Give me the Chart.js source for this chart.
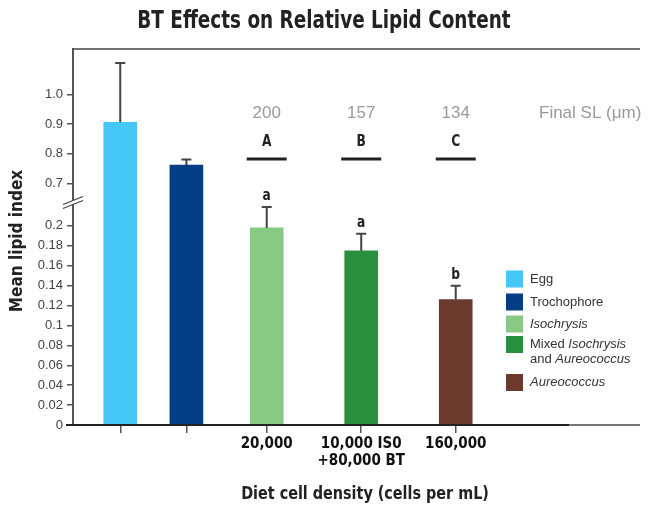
<!DOCTYPE html>
<html>
<head>
<meta charset="utf-8">
<script src="https://cdn.jsdelivr.net/npm/chart.js@4.4.1/dist/chart.umd.min.js"></script>
<style>
  html, body { margin: 0; padding: 0; background: #fff; }
  #wrap { width: 649px; height: 506px; }
</style>
</head>
<body>
<div id="wrap"><canvas id="chart" width="649" height="506"></canvas></div>
<script>
// ---- data ----
const groups = ['Egg', 'Trochophore', 'Isochrysis', 'Mixed Isochrysis and Aureococcus', 'Aureococcus'];
const lipidMeans = [0.906, 0.762, 0.198, 0.175, 0.126];
const lipidErrors = [0.200, 0.019, 0.021, 0.017, 0.014];
const dietLabels = ['', '', '20,000', ['10,000 IS0', '+80,000 BT'], '160,000'];
const sigLetters = ['', '', 'a', 'a', 'b'];
const finalSL = ['', '', '200', '157', '134'];
const slGroups = ['', '', 'A', 'B', 'C'];
const yTicks = [0, 0.02, 0.04, 0.06, 0.08, 0.1, 0.12, 0.14, 0.16, 0.18, 0.2, 0.7, 0.8, 0.9, 1.0];
const yTickLabels = ['0', '0.02', '0.04', '0.06', '0.08', '0.1', '0.12', '0.14', '0.16', '0.18', '0.2', '0.7', '0.8', '0.9', '1.0'];

// ---- layout & style ----
const slotPositions = [0.5, 1.2, 2.05, 3.05, 4.05];   // x-axis units (0..6)
const barColors = ['#45C8F5', '#033E85', '#88C984', '#2A8F3C', '#6B3A2C'];
const axisBreak = { lowMax: 0.223, highMin: 0.634, frac: 0.5904 }; // value range below / above the break
const NARROW = "'Liberation Sans Narrow', 'Arial Narrow', 'DejaVu Sans Condensed', sans-serif";
const SANS = "'Liberation Sans', Arial, sans-serif";
const legendRows = [
  { color: barColors[0], lines: [[['Egg', false]]] },
  { color: barColors[1], lines: [[['Trochophore', false]]] },
  { color: barColors[2], lines: [[['Isochrysis', true]]] },
  { color: barColors[3], lines: [[['Mixed ', false], ['Isochrysis', true]], [['and ', false], ['Aureococcus', true]]] },
  { color: barColors[4], lines: [[['Aureococcus', true]]] }
];

// Linear scale with a break: a stretched lower segment and a compressed upper one.
class BrokenLinearScale extends Chart.LinearScale {
  buildTicks() { return yTicks.map(v => ({ value: v })); }
  _decimalFor(v) {
    const b = axisBreak;
    if (v <= b.lowMax) return (v - this.min) / (b.lowMax - this.min) * b.frac;
    if (v >= b.highMin) return b.frac + (v - b.highMin) / (this.max - b.highMin) * (1 - b.frac);
    return b.frac;
  }
  getPixelForValue(v) {
    if (v === null || isNaN(v)) return NaN;
    return this.getPixelForDecimal(this._decimalFor(v));
  }
  getValueForPixel(p) {
    const b = axisBreak;
    const d = this.getDecimalForPixel(p);
    if (d <= b.frac) return this.min + d / b.frac * (b.lowMax - this.min);
    return b.highMin + (d - b.frac) / (1 - b.frac) * (this.max - b.highMin);
  }
}
BrokenLinearScale.id = 'brokenLinear';
Chart.register(BrokenLinearScale);

function drawRuns(ctx, runs, x, y, size) {
  let cx = x;
  runs.forEach(([t, it]) => {
    ctx.font = (it ? 'italic ' : '') + size + 'px ' + SANS;
    ctx.fillText(t, cx, y);
    cx += ctx.measureText(t).width;
  });
}

// condensed bold text: horizontally squeezed
function narrowText(ctx, text, x, y, size, squeeze, rotate) {
  ctx.save();
  ctx.translate(x, y);
  if (rotate) ctx.rotate(-Math.PI / 2);
  ctx.scale(squeeze, 1);
  ctx.font = 'bold ' + size + 'px ' + NARROW;
  ctx.fillText(text, 0, 0);
  ctx.restore();
}

const decorations = {
  id: 'decorations',
  afterDatasetsDraw(chart) {
    const { ctx, chartArea: a } = chart;
    const xs = chart.scales.x, ys = chart.scales.y;
    ctx.save();

    // error bars and significance letters
    lipidMeans.forEach((m, i) => {
      const x = xs.getPixelForValue(slotPositions[i]);
      const yb = ys.getPixelForValue(m);
      const yt = ys.getPixelForValue(m + lipidErrors[i]);
      ctx.strokeStyle = '#444';
      ctx.lineWidth = 2;
      ctx.beginPath();
      ctx.moveTo(x, yb); ctx.lineTo(x, yt);
      ctx.moveTo(x - 5, yt); ctx.lineTo(x + 5, yt);
      ctx.stroke();
      ctx.textAlign = 'center';
      if (sigLetters[i]) {
        ctx.fillStyle = '#222';
        ctx.textBaseline = 'alphabetic';
        narrowText(ctx, sigLetters[i], x, yt - 7, 16, 0.85);
      }
      if (finalSL[i]) {
        ctx.fillStyle = '#9a9a9a';
        ctx.font = '17px ' + SANS;
        ctx.textBaseline = 'middle';
        ctx.fillText(finalSL[i], x, 113);
      }
      if (slGroups[i]) {
        ctx.fillStyle = '#222';
        ctx.textBaseline = 'middle';
        narrowText(ctx, slGroups[i], x, 142, 16, 0.85);
        ctx.strokeStyle = '#222';
        ctx.lineWidth = 3;
        ctx.beginPath();
        ctx.moveTo(x - 20, 159); ctx.lineTo(x + 20, 159);
        ctx.stroke();
      }
    });

    ctx.fillStyle = '#9a9a9a';
    ctx.font = '17px ' + SANS;
    ctx.textAlign = 'left';
    ctx.textBaseline = 'middle';
    ctx.fillText('Final SL (\u03bcm)', 539, 113);

    // top frame line
    ctx.strokeStyle = '#444';
    ctx.lineWidth = 1.5;
    ctx.beginPath();
    ctx.moveTo(a.left, a.top); ctx.lineTo(a.right, a.top);
    ctx.stroke();

    // x axis line
    ctx.lineWidth = 2;
    ctx.strokeStyle = '#222';
    ctx.beginPath();
    ctx.moveTo(a.left - 7, a.bottom); ctx.lineTo(569, a.bottom);
    ctx.stroke();
    ctx.strokeStyle = '#777';
    ctx.beginPath();
    ctx.moveTo(569, a.bottom); ctx.lineTo(a.right, a.bottom);
    ctx.stroke();

    // axis break marks
    const by = ys.getPixelForDecimal(axisBreak.frac);
    const bx = a.left;
    ctx.fillStyle = '#fff';
    ctx.beginPath();
    ctx.moveTo(bx - 9, by + 1); ctx.lineTo(bx + 9, by - 6);
    ctx.lineTo(bx + 9, by - 2); ctx.lineTo(bx - 9, by + 5);
    ctx.closePath();
    ctx.fill();
    ctx.strokeStyle = '#444';
    ctx.lineWidth = 1.3;
    ctx.beginPath();
    ctx.moveTo(bx - 10, by + 1.5); ctx.lineTo(bx + 10, by - 6.5);
    ctx.moveTo(bx - 10, by + 5.5); ctx.lineTo(bx + 10, by - 2.5);
    ctx.stroke();

    // titles
    ctx.fillStyle = '#222';
    ctx.textAlign = 'center';
    ctx.textBaseline = 'middle';
    narrowText(ctx, 'BT Effects on Relative Lipid Content', 324, 22, 24, 0.853);
    narrowText(ctx, 'Diet cell density (cells per mL)', 365, 495, 17, 0.94);
    narrowText(ctx, 'Mean lipid index', 18, 241, 17, 1, true);

    // legend
    const rowY = [279, 302, 324, 344.5, 382.5];
    legendRows.forEach((r, i) => {
      ctx.fillStyle = r.color;
      ctx.fillRect(506, rowY[i] - 8.5, 17, 17);
      ctx.fillStyle = '#333';
      ctx.textAlign = 'left';
      ctx.textBaseline = 'middle';
      r.lines.forEach((runs, k) => drawRuns(ctx, runs, 530, rowY[i] + k * 15, 13));
    });

    ctx.restore();
  }
};

new Chart(document.getElementById('chart'), {
  type: 'bar',
  data: {
    datasets: [{
      label: 'Mean lipid index',
      data: slotPositions.map((x, i) => ({ x, y: lipidMeans[i] })),
      backgroundColor: barColors,
      borderWidth: 0,
      barThickness: 33
    }]
  },
  options: {
    responsive: false,
    animation: false,
    devicePixelRatio: 1,
    layout: { padding: { left: 0, top: 49, right: 9, bottom: 0 } },
    plugins: { legend: { display: false }, tooltip: { enabled: false } },
    scales: {
      x: {
        type: 'linear',
        min: 0,
        max: 6,
        offset: false,
        afterBuildTicks: s => { s.ticks = slotPositions.map(v => ({ value: v })); },
        afterFit: s => { s.height = 81; },
        border: { display: false },
        grid: { offset: false, drawOnChartArea: false, tickLength: 8, color: '#555', lineWidth: 1.5 },
        ticks: {
          autoSkip: false, maxRotation: 0, padding: 3, color: '#111',
          font: { family: NARROW, size: 15, weight: 'bold', lineHeight: 1.1 },
          callback: (v, i) => dietLabels[i]
        }
      },
      y: {
        type: 'brokenLinear',
        min: 0,
        max: 1.153,
        afterFit: s => { s.width = 73; },
        border: { display: true, color: '#555', width: 2 },
        grid: { drawOnChartArea: false, tickLength: 6, color: '#555', lineWidth: 1.5 },
        ticks: {
          autoSkip: false, padding: 4, color: '#444',
          font: { family: SANS, size: 13 },
          callback: (v, i) => yTickLabels[i]
        }
      }
    }
  },
  plugins: [decorations]
});
</script>
</body>
</html>
